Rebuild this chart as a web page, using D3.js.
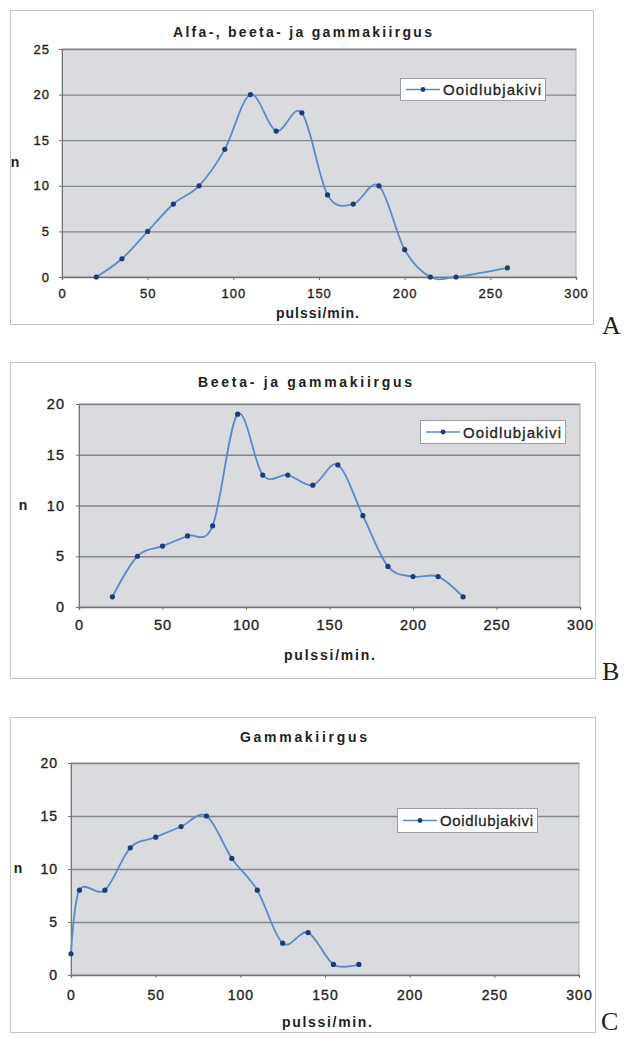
<!DOCTYPE html>
<html>
<head>
<meta charset="utf-8">
<script src="https://cdn.jsdelivr.net/npm/d3@7"></script>
<style>
  html, body { margin: 0; padding: 0; background: #ffffff; }
  svg { display: block; }
  text { font-family: "Liberation Sans", Arial, sans-serif; fill: #1e1e1e; }
</style>
</head>
<body>
<svg id="chart" width="624" height="1038"></svg>
<script>
// Pulse-rate distributions for oolitic limestone (Ooidlubjakivi)
const seriesName = "Ooidlubjakivi";
const xTicks = [0, 50, 100, 150, 200, 250, 300];

// Panel A: alpha, beta and gamma radiation
const titleA = "Alfa-, beeta- ja gammakiirgus";
const pulsesA = [20, 35, 50, 65, 80, 95, 110, 125, 140, 155, 170, 185, 200, 215, 230, 260];
const countsA = [0, 2, 5, 8, 10, 14, 20, 16, 18, 9, 8, 10, 3, 0, 0, 1];
const yTicksA = [0, 5, 10, 15, 20, 25];

// Panel B: beta and gamma radiation
const titleB = "Beeta- ja gammakiirgus";
const pulsesB = [20, 35, 50, 65, 80, 95, 110, 125, 140, 155, 170, 185, 200, 215, 230];
const countsB = [1, 5, 6, 7, 8, 19, 13, 13, 12, 14, 9, 4, 3, 3, 1];
const yTicksB = [0, 5, 10, 15, 20];

// Panel C: gamma radiation
const titleC = "Gammakiirgus";
const pulsesC = [0, 5, 20, 35, 50, 65, 80, 95, 110, 125, 140, 155, 170];
const countsC = [2, 8, 8, 12, 13, 14, 15, 11, 8, 3, 4, 1, 1];
const yTicksC = [0, 5, 10, 15, 20];

const xLabel = "pulssi/min.";
const yLabel = "n";

const LINE_COLOR = "#5a8bc8";
const MARK_COLOR = "#1b3c78";

const svg = d3.select("#chart");

function panel(opt) {
  const g = svg.append("g");
  const f = opt.frame, p = opt.plot;

  // chart frame
  g.append("rect")
    .attr("x", f.x0 + 0.5).attr("y", f.y0 + 0.5)
    .attr("width", f.x1 - f.x0).attr("height", f.y1 - f.y0)
    .attr("fill", "#ffffff").attr("stroke", "#c4c4c4").attr("stroke-width", 1);

  const x = d3.scaleLinear().domain([0, 300]).range([p.x0, p.x1]);
  const y = d3.scaleLinear().domain([0, d3.max(opt.yTicks)]).range([p.y1, p.y0]);

  // plot area
  g.append("rect")
    .attr("x", p.x0).attr("y", p.y0)
    .attr("width", p.x1 - p.x0).attr("height", p.y1 - p.y0)
    .attr("fill", "#dadbdf").attr("stroke", "#a9abaf").attr("stroke-width", 1);

  // horizontal gridlines
  g.append("g")
    .attr("transform", `translate(${p.x0},0)`)
    .call(d3.axisRight(y).tickValues(opt.yTicks.filter(v => v > 0)).tickSize(p.x1 - p.x0).tickFormat(""))
    .call(a => a.select(".domain").remove())
    .call(a => a.selectAll("line").attr("stroke", "#83868b").attr("stroke-width", 1.3));

  const tickStyle = a => a.selectAll("text")
    .style("font-size", opt.tickFont + "px")
    .style("letter-spacing", opt.tickSpacing + "px")
    .attr("fill", "#222")
    .attr("stroke", "#222").attr("stroke-width", 0.35);

  // y axis
  g.append("g")
    .attr("transform", `translate(${p.x0},0)`)
    .call(d3.axisLeft(y).tickValues(opt.yTicks).tickSize(3).tickPadding(opt.yPad))
    .call(a => a.select(".domain").attr("stroke", "#6f7276"))
    .call(a => a.selectAll("line").attr("stroke", "#6f7276"))
    .call(tickStyle);

  // x axis
  g.append("g")
    .attr("transform", `translate(0,${p.y1})`)
    .call(d3.axisBottom(x).tickValues(xTicks).tickSize(3).tickPadding(opt.xPad))
    .call(a => a.select(".domain").attr("stroke", "#6f7276").attr("stroke-width", 1.3))
    .call(a => a.selectAll("line").attr("stroke", "#6f7276"))
    .call(tickStyle);

  // title
  g.append("text")
    .attr("x", opt.titleX).attr("y", opt.titleY)
    .attr("textLength", opt.titleW).attr("lengthAdjust", "spacing")
    .style("font-size", "14px").style("font-weight", "bold")
    .text(opt.title);

  // axis titles
  g.append("text")
    .attr("x", opt.xLabelX).attr("y", opt.xLabelY)
    .attr("textLength", opt.xLabelW).attr("lengthAdjust", "spacing")
    .style("font-size", "14px").style("font-weight", "bold")
    .text(xLabel);
  g.append("text")
    .attr("x", opt.nX).attr("y", (p.y0 + p.y1) / 2 + 4)
    .attr("text-anchor", "middle")
    .style("font-size", "14px").style("font-weight", "bold")
    .text(yLabel);

  // smoothed series line
  const pts = opt.xs.map((v, i) => [v, opt.ys[i]]);
  const line = d3.line()
    .x(d => x(d[0])).y(d => y(d[1]))
    .curve(d3.curveCatmullRom.alpha(0));
  g.append("path")
    .datum(pts)
    .attr("d", line)
    .attr("fill", "none").attr("stroke", LINE_COLOR).attr("stroke-width", 1.8);

  // markers
  g.selectAll("circle.mk")
    .data(pts).enter().append("circle")
    .attr("class", "mk")
    .attr("cx", d => x(d[0])).attr("cy", d => y(d[1]))
    .attr("r", 2.6)
    .attr("fill", MARK_COLOR);

  // legend
  const L = opt.legend;
  const lg = g.append("g").attr("transform", `translate(${L.x},${L.y})`);
  lg.append("rect")
    .attr("x", 0.5).attr("y", 0.5).attr("width", L.w).attr("height", L.h)
    .attr("fill", "#ffffff").attr("stroke", "#9a9ca0");
  lg.append("line")
    .attr("x1", 6).attr("x2", 40).attr("y1", L.h / 2 + 0.5).attr("y2", L.h / 2 + 0.5)
    .attr("stroke", LINE_COLOR).attr("stroke-width", 1.6);
  lg.append("circle")
    .attr("cx", 23).attr("cy", L.h / 2 + 0.5).attr("r", 2.4)
    .attr("fill", MARK_COLOR);
  lg.append("text")
    .attr("x", 43).attr("y", L.h / 2 + 6)
    .attr("textLength", L.w - 47).attr("lengthAdjust", "spacing")
    .style("font-size", "15px")
    .attr("stroke", "#1e1e1e").attr("stroke-width", 0.3)
    .text(seriesName);

  // panel letter
  g.append("text")
    .attr("x", opt.letterX).attr("y", opt.letterY)
    .style("font-family", "'Liberation Serif', 'Times New Roman', serif")
    .style("font-size", "26px")
    .attr("fill", "#111")
    .text(opt.letter);
}

panel({
  frame: { x0: 10, y0: 10, x1: 593, y1: 324 },
  plot: { x0: 62, y0: 49, x1: 576, y1: 277 },
  yTicks: yTicksA, xs: pulsesA, ys: countsA,
  tickFont: 13, tickSpacing: 1, xPad: 9, yPad: 9,
  title: titleA, titleX: 173, titleW: 259, titleY: 37,
  xLabelX: 276, xLabelW: 83, xLabelY: 318, nX: 15,
  legend: { x: 400, y: 78, w: 145, h: 22 },
  letter: "A", letterX: 602, letterY: 334
});

panel({
  frame: { x0: 10, y0: 362, x1: 595, y1: 678 },
  plot: { x0: 79, y0: 404, x1: 580, y1: 607 },
  yTicks: yTicksB, xs: pulsesB, ys: countsB,
  tickFont: 14.5, tickSpacing: 1, xPad: 10, yPad: 11,
  title: titleB, titleX: 198, titleW: 214, titleY: 387,
  xLabelX: 284, xLabelW: 91, xLabelY: 660, nX: 23,
  legend: { x: 420, y: 420, w: 145, h: 23 },
  letter: "B", letterX: 602, letterY: 680
});

panel({
  frame: { x0: 10, y0: 717, x1: 595, y1: 1032 },
  plot: { x0: 71, y0: 763, x1: 579, y1: 975 },
  yTicks: yTicksC, xs: pulsesC, ys: countsC,
  tickFont: 14, tickSpacing: 1, xPad: 12, yPad: 10,
  title: titleC, titleX: 240, titleW: 127, titleY: 742,
  xLabelX: 282, xLabelW: 90, xLabelY: 1027, nX: 18,
  legend: { x: 397, y: 808, w: 140, h: 24 },
  letter: "C", letterX: 601, letterY: 1030
});
</script>
</body>
</html>
